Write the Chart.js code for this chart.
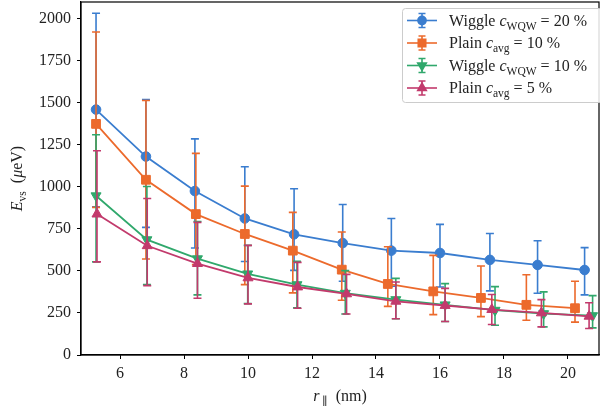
<!DOCTYPE html>
<html>
<head>
<meta charset="utf-8">
<script src="https://cdn.jsdelivr.net/npm/chart.js@4"></script>
<style>
  html, body { margin: 0; padding: 0; background: #fff; }
  #wrap { width: 600px; height: 412px; }
</style>
</head>
<body>
<div id="wrap"><canvas id="chart" width="600" height="412"></canvas></div>
<script>
// Wiggle c_WQW = 20 %
const wig20X  = [5.25, 6.81, 8.34, 9.90, 11.44, 12.96, 14.48, 16.00, 17.56, 19.05, 20.52];
const wig20Y  = [1458, 1179, 974, 811, 717, 665, 620, 606, 565, 535, 505];
const wig20Lo = [880, 758, 636, 555, 503, 438, 408, 404, 381, 367, 357];
const wig20Hi = [2030, 1517, 1284, 1118, 988, 894, 811, 776, 722, 679, 638];

// Plain c_avg = 10 %
const plain10X  = [5.25, 6.81, 8.37, 9.90, 11.40, 12.93, 14.37, 15.79, 17.28, 18.70, 20.22];
const plain10Y  = [1373, 1041, 837, 719, 620, 507, 422, 378, 339, 298, 278];
const plain10Lo = [877, 570, 537, 418, 369, 325, 289, 240, 228, 206, 195];
const plain10Hi = [1919, 1512, 1198, 1003, 847, 731, 643, 592, 529, 477, 438];

// Wiggle c_WQW = 10 %
const wig10X  = [5.25, 6.84, 8.42, 9.99, 11.53, 13.04, 14.62, 16.16, 17.72, 19.24, 20.77];
const wig10Y  = [946, 685, 572, 482, 418, 367, 329, 298, 266, 246, 234];
const wig10Lo = [553, 418, 357, 305, 280, 244, 215, 199, 177, 167, 161];
const wig10Hi = [1308, 1001, 793, 651, 556, 501, 455, 424, 406, 375, 353];

// Plain c_avg = 5 %
const plain5X  = [5.28, 6.85, 8.42, 10.00, 11.55, 13.08, 14.62, 16.16, 17.62, 19.17, 20.66];
const plain5Y  = [837, 649, 543, 458, 404, 363, 319, 294, 270, 250, 230];
const plain5Lo = [553, 412, 337, 304, 278, 244, 215, 199, 181, 167, 157];
const plain5Hi = [1213, 930, 788, 651, 550, 479, 434, 396, 359, 329, 310];

const xTicks = [6, 8, 10, 12, 14, 16, 18, 20];
const yTicks = [0, 250, 500, 750, 1000, 1250, 1500, 1750, 2000];

const FONT = '"Liberation Serif", "DejaVu Serif", serif';
const FS = 16;

const series = [
  { kind: 'Wiggle', sym: 'c', sub: 'WQW', pct: '20', color: '#3a7dcf', style: 'circle',   rot: 0,   r: 4.8, xs: wig20X,   ys: wig20Y,   lo: wig20Lo,   hi: wig20Hi,   order: 3 },
  { kind: 'Plain',  sym: 'c', sub: 'avg', pct: '10', color: '#ec6a2c', style: 'rect',     rot: 0,   r: 6.2, xs: plain10X, ys: plain10Y, lo: plain10Lo, hi: plain10Hi, order: 2 },
  { kind: 'Wiggle', sym: 'c', sub: 'WQW', pct: '10', color: '#30a86c', style: 'triangle', rot: 180, r: 5.8, xs: wig10X,   ys: wig10Y,   lo: wig10Lo,   hi: wig10Hi,   order: 1 },
  { kind: 'Plain',  sym: 'c', sub: 'avg', pct: '5',  color: '#c23a6c', style: 'triangle', rot: 0,   r: 5.8, xs: plain5X,  ys: plain5Y,  lo: plain5Lo,  hi: plain5Hi,  order: 0 }
];

// draws a run of text pieces: {t, it (italic), sub (subscript)}
function drawRich(ctx, parts, x, y, size, align) {
  const fontFor = p => (p.it ? 'italic ' : '') + (p.sub ? size * 0.72 : size) + 'px ' + FONT;
  let total = 0;
  parts.forEach(p => { ctx.font = fontFor(p); total += ctx.measureText(p.t).width; });
  let cx = align === 'center' ? x - total / 2 : x;
  ctx.textBaseline = 'alphabetic';
  ctx.textAlign = 'left';
  parts.forEach(p => {
    ctx.font = fontFor(p);
    ctx.fillText(p.t, cx, p.sub ? y + size * 0.25 : y);
    cx += ctx.measureText(p.t).width;
  });
}

function drawErrBar(ctx, x, yLo, yHi, cap) {
  ctx.beginPath();
  ctx.moveTo(x, yLo); ctx.lineTo(x, yHi);
  ctx.moveTo(x - cap, yLo); ctx.lineTo(x + cap, yLo);
  ctx.moveTo(x - cap, yHi); ctx.lineTo(x + cap, yHi);
  ctx.stroke();
}

const errorBars = {
  id: 'errorBars',
  beforeDatasetDraw(chart, args) {
    const s = series[args.index];
    const ctx = chart.ctx, xs = chart.scales.x, ys = chart.scales.y;
    ctx.save();
    ctx.strokeStyle = s.color;
    ctx.lineWidth = 1.6;
    s.xs.forEach((v, i) => {
      drawErrBar(ctx, xs.getPixelForValue(v), ys.getPixelForValue(s.lo[i]), ys.getPixelForValue(s.hi[i]), 4);
    });
    ctx.restore();
  }
};

const frameAndText = {
  id: 'frameAndText',
  afterDraw(chart) {
    const ctx = chart.ctx, a = chart.chartArea;
    ctx.save();
    // box round the plot
    ctx.strokeStyle = '#000';
    ctx.lineWidth = 1.2;
    ctx.strokeRect(a.left, a.top, a.right - a.left, a.bottom - a.top);

    ctx.fillStyle = '#222';
    // x axis title
    drawRich(ctx, [{ t: 'r', it: true }, { t: ' ∥', sub: true }, { t: '  (nm)' }], (a.left + a.right) / 2, 401, FS, 'center');
    // y axis title
    ctx.translate(22, (a.top + a.bottom) / 2);
    ctx.rotate(-Math.PI / 2);
    drawRich(ctx, [{ t: 'E', it: true }, { t: 'vs', sub: true }, { t: '  (' }, { t: 'μ', it: true }, { t: 'eV)' }], 0, 0, FS, 'center');
    ctx.restore();

    // legend
    ctx.save();
    const lx = 402, ly = 8, lw = 200, lh = 94;
    ctx.fillStyle = 'rgba(255,255,255,0.85)';
    ctx.strokeStyle = '#cccccc';
    ctx.lineWidth = 1;
    ctx.beginPath();
    ctx.roundRect(lx + 0.5, ly + 0.5, lw, lh, 3);
    ctx.fill();
    ctx.stroke();
    series.forEach((s, i) => {
      const y = 20.5 + i * 22.5;
      ctx.strokeStyle = s.color;
      ctx.fillStyle = s.color;
      ctx.lineWidth = 1.6;
      ctx.beginPath();
      ctx.moveTo(407, y); ctx.lineTo(437, y);
      ctx.stroke();
      drawErrBar(ctx, 422, y - 7, y + 7, 3.5);
      Chart.helpers.drawPoint(ctx, { pointStyle: s.style, rotation: s.rot, radius: s.r * 0.85, borderWidth: 1 }, 422, y);
      ctx.fillStyle = '#222';
      drawRich(ctx, [{ t: s.kind + ' ' }, { t: s.sym, it: true }, { t: s.sub, sub: true }, { t: ' = ' + s.pct + ' %' }], 449, y + 5, FS, 'left');
    });
    ctx.restore();
  }
};

const datasets = series.map(s => ({
  label: s.kind + ' ' + s.sub + ' ' + s.pct,
  data: s.xs.map((x, i) => ({ x: x, y: s.ys[i] })),
  borderColor: s.color,
  backgroundColor: s.color,
  borderWidth: 1.8,
  showLine: true,
  pointStyle: s.style,
  rotation: s.rot,
  pointRadius: s.r,
  pointBorderWidth: 1,
  order: s.order
}));

new Chart(document.getElementById('chart'), {
  type: 'scatter',
  data: { datasets: datasets },
  plugins: [errorBars, frameAndText],
  options: {
    responsive: false,
    animation: false,
    layout: { autoPadding: false, padding: { top: 2, right: 1, left: 0, bottom: 0 } },
    plugins: { legend: { display: false }, tooltip: { enabled: false } },
    scales: {
      x: {
        type: 'linear', min: 4.78, max: 20.97,
        afterBuildTicks: sc => { sc.ticks = xTicks.map(v => ({ value: v })); },
        afterFit: sc => { sc.height = 57; sc.paddingLeft = 0; sc.paddingRight = 0; },
        grid: { drawOnChartArea: false, drawTicks: true, tickLength: 4, color: '#000', lineWidth: 1 },
        border: { display: true, color: '#000', width: 1.2 },
        ticks: { color: '#222', padding: 5, font: { family: FONT, size: FS } }
      },
      y: {
        type: 'linear', min: 0, max: 2097,
        afterBuildTicks: sc => { sc.ticks = yTicks.map(v => ({ value: v })); },
        afterFit: sc => { sc.width = 81; sc.paddingTop = 0; sc.paddingBottom = 0; },
        grid: { drawOnChartArea: false, drawTicks: true, tickLength: 4, color: '#000', lineWidth: 1 },
        border: { display: true, color: '#000', width: 1.2 },
        ticks: { color: '#222', padding: 6, font: { family: FONT, size: FS }, callback: v => String(v) }
      }
    }
  }
});
</script>
</body>
</html>
